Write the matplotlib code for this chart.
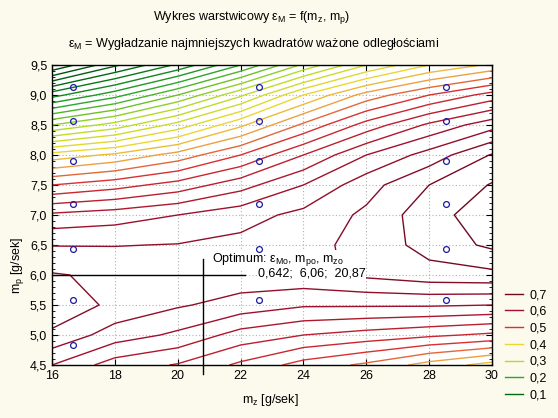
import numpy as np
import matplotlib
matplotlib.use('Agg')
import matplotlib.pyplot as plt
from matplotlib.colors import LinearSegmentedColormap, Normalize
from matplotlib.lines import Line2D

plt.rcParams['font.family'] = ['Liberation Sans', 'DejaVu Sans']
plt.rcParams['mathtext.default'] = 'regular'
plt.rcParams['font.size'] = 9

# siatka wartosci eps_M (wiersze: m_p, kolumny: m_z)
mz_grid = [16, 18, 20, 22, 24, 26, 28, 30]
mp_grid = [4.5, 5.0, 5.5, 6.0, 6.5, 7.0, 7.5, 8.0, 8.5, 9.0, 9.5]
eps_grid = [
    [0.600, 0.563, 0.548, 0.520, 0.490, 0.470, 0.440, 0.415],
    [0.645, 0.613, 0.595, 0.565, 0.550, 0.540, 0.530, 0.520],
    [0.668, 0.644, 0.628, 0.615, 0.603, 0.603, 0.603, 0.600],
    [0.652, 0.645, 0.641, 0.640, 0.643, 0.655, 0.665, 0.668],
    [0.624, 0.624, 0.626, 0.632, 0.642, 0.658, 0.685, 0.705],
    [0.580, 0.588, 0.600, 0.615, 0.632, 0.655, 0.690, 0.715],
    [0.500, 0.515, 0.535, 0.565, 0.600, 0.640, 0.675, 0.702],
    [0.410, 0.430, 0.460, 0.500, 0.550, 0.600, 0.635, 0.677],
    [0.275, 0.310, 0.360, 0.420, 0.480, 0.535, 0.580, 0.615],
    [0.140, 0.190, 0.250, 0.320, 0.400, 0.460, 0.500, 0.535],
    [0.000, 0.070, 0.130, 0.200, 0.280, 0.350, 0.400, 0.430],
]

# punkty pomiarowe
pts_mz = [16.67] * 7 + [22.59] * 6 + [28.54] * 6
pts_mp = [9.13, 8.57, 7.90, 7.18, 6.43, 5.58, 4.83,
          9.13, 8.57, 7.90, 7.18, 6.43, 5.58,
          9.13, 8.57, 7.90, 7.18, 6.43, 5.58]

opt_eps, opt_mp, opt_mz = 0.642, 6.06, 20.87
opt_mark = (20.8, 6.0)  # polozenie krzyza na rysunku

levels = np.arange(0.025, 0.7001, 0.025)
legend_vals = [0.7, 0.6, 0.5, 0.4, 0.3, 0.2, 0.1]
legend_labels = ['0,7', '0,6', '0,5', '0,4', '0,3', '0,2', '0,1']

xticks = [16, 18, 20, 22, 24, 26, 28, 30]
yticks = [4.5, 5.0, 5.5, 6.0, 6.5, 7.0, 7.5, 8.0, 8.5, 9.0, 9.5]
ytick_labels = ['4,5', '5,0', '5,5', '6,0', '6,5', '7,0', '7,5', '8,0', '8,5', '9,0', '9,5']

cmap = LinearSegmentedColormap.from_list('stat', [
    (0.0, '#00400a'), (0.1 / 0.7, '#006a10'), (0.2 / 0.7, '#28a828'),
    (0.3 / 0.7, '#b4dc28'), (0.4 / 0.7, '#ecd830'), (0.45 / 0.7, '#eca040'),
    (0.5 / 0.7, '#d83030'), (0.6 / 0.7, '#a0102c'), (1.0, '#6a0820')])
norm = Normalize(0.0, 0.7)

fig = plt.figure(figsize=(5.58, 4.18), dpi=100, facecolor='#fcfaec')
ax = fig.add_axes([52 / 558, 1 - 365 / 418, 440 / 558, 300 / 418])
ax.set_facecolor('white')

cols = [cmap(norm(v)) for v in levels]
ax.contour(mz_grid, mp_grid, np.array(eps_grid), levels=levels, colors=cols,
           linewidths=1.0)

ax.plot(pts_mz, pts_mp, 'o', mfc='none', mec='#1c1ca0', ms=4.2, mew=0.9, zorder=6)

# krzyz optimum
ax.plot([16, opt_mark[0] + 1.35], [opt_mark[1], opt_mark[1]], color='black', lw=1, clip_on=False)
ax.plot([opt_mark[0], opt_mark[0]], [opt_mark[1] + 0.27, 4.35], color='black', lw=1, clip_on=False)
box = dict(facecolor='white', edgecolor='none', pad=0.5)
ax.text(21.1, 6.26, 'Optimum: ε$_{Mo}$, m$_{po}$, m$_{zo}$', va='center', bbox=box, zorder=5)
ax.text(22.55, 6.03, '%s;  %s;  %s' % (str(opt_eps).replace('.', ','),
                                        str(opt_mp).replace('.', ','),
                                        str(opt_mz).replace('.', ',')),
        va='center', bbox=box, zorder=5)

ax.set_xlim(16, 30)
ax.set_ylim(4.5, 9.5)
ax.set_xticks(xticks)
ax.set_yticks(yticks)
ax.set_yticklabels(ytick_labels)
ax.set_yticks(np.arange(4.5, 9.51, 0.1), minor=True)
ax.tick_params(which='major', direction='in', length=4, top=True, right=True, labelsize=9)
ax.tick_params(which='minor', direction='in', length=2, left=True, right=True)
ax.grid(True, which='major', color='#b0b0b0', linestyle=(0, (1, 2)), linewidth=0.8)
for s in ax.spines.values():
    s.set_linewidth(1)

fig.text(0.451, 0.957, 'Wykres warstwicowy ε$_M$ = f(m$_z$, m$_p$)', ha='center', va='center')
fig.text(0.455, 0.895, 'ε$_M$ = Wygładzanie najmniejszych kwadratów ważone odległościami',
         ha='center', va='center')
fig.text(270 / 558, 1 - 400 / 418, 'm$_z$ [g/sek]', ha='center', va='center')
fig.text(18 / 558, 1 - 265 / 418, 'm$_p$ [g/sek]', ha='center', va='center', rotation=90)

handles = [Line2D([0], [0], color=cmap(norm(v)), lw=1) for v in legend_vals]
fig.legend(handles, legend_labels, loc='upper left', bbox_to_anchor=(505 / 558, 1 - 289 / 418),
           frameon=False, fontsize=9, handlelength=1.45, handletextpad=0.55, labelspacing=0.38,
           borderpad=0, borderaxespad=0)

fig.savefig('out.png', dpi=100, facecolor=fig.get_facecolor())
